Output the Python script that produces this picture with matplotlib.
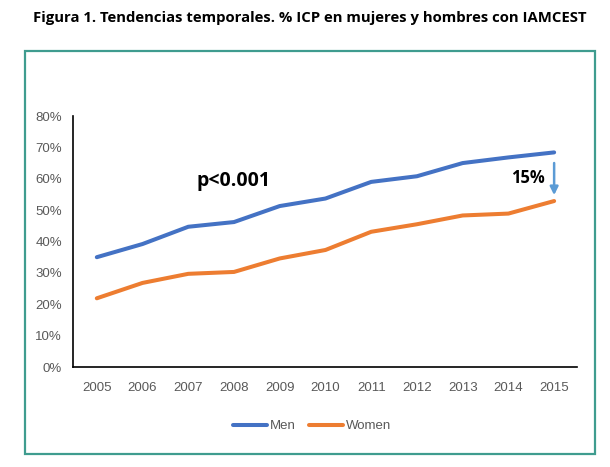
import numpy as np
import matplotlib.pyplot as plt
from matplotlib.patches import Rectangle
from matplotlib.ticker import PercentFormatter

# datos
years = list(range(2005, 2016))
men = [35.0, 39.2, 44.7, 46.2, 51.3, 53.7, 59.0, 60.8, 65.0, 66.8, 68.4]
women = [21.9, 26.8, 29.7, 30.3, 34.6, 37.3, 43.1, 45.5, 48.3, 48.9, 52.9]
yticks = [0, 10, 20, 30, 40, 50, 60, 70, 80]

title = 'Figura 1. Tendencias temporales. % ICP en mujeres y hombres con IAMCEST'

plt.rcParams['font.family'] = ['Liberation Sans Narrow', 'Liberation Sans', 'DejaVu Sans']

fig = plt.figure(figsize=(6.1, 4.67), dpi=100)
ax = fig.add_axes([0.1197, 0.2141, 0.8262, 0.5375])

ax.plot(years, men, color='#4472C4', lw=2.9, label='Men', solid_capstyle='round')
ax.plot(years, women, color='#ED7D31', lw=2.9, label='Women', solid_capstyle='round')

ax.set_xlim(2004.48, 2015.5)
ax.set_ylim(0, 80)
ax.set_xticks(years)
ax.set_yticks(yticks)
ax.yaxis.set_major_formatter(PercentFormatter(decimals=0))
ax.tick_params(length=0, labelsize=9.5, colors='#595959')
ax.tick_params(axis='x', pad=11)
ax.tick_params(axis='y', pad=8)
for s in ['top', 'right']:
    ax.spines[s].set_visible(False)
ax.spines['left'].set_color('black')
ax.spines['bottom'].set_color('black')
ax.spines['left'].set_linewidth(1.2)
ax.spines['bottom'].set_linewidth(1.2)

# anotaciones
ax.text(2008.0, 59.3, 'p<0.001', fontsize=14, fontweight='bold', family='Open Sans',
        ha='center', va='center', color='black')
ax.text(2014.42, 60.3, '15%', fontsize=12, fontweight='bold', family='Open Sans',
        ha='center', va='center', color='black')
ax.annotate('', xy=(2015, men[-1] - 14.5), xytext=(2015, men[-1] - 2.5),
            arrowprops=dict(arrowstyle='-|>', color='#5B9BD5', lw=1.8, mutation_scale=12))

leg = ax.legend(loc='center', bbox_to_anchor=(312 / 610, 1 - 426 / 467),
                bbox_transform=fig.transFigure, ncol=2, frameon=False,
                fontsize=9.5, handlelength=2.6, handletextpad=0.2, columnspacing=1.0)
for t in leg.get_texts():
    t.set_color('#595959')

# marco verde
fig.patches.append(Rectangle((25 / 610, 1 - 454 / 467), 570 / 610, 403 / 467,
                             transform=fig.transFigure, fill=False,
                             edgecolor='#3f9c8f', lw=1.6))

fig.text(310 / 610, 1 - 18 / 467, title, ha='center', va='center',
         fontsize=10.7, fontweight='bold', family='Open Sans')

fig.savefig('out.png', dpi=100)
